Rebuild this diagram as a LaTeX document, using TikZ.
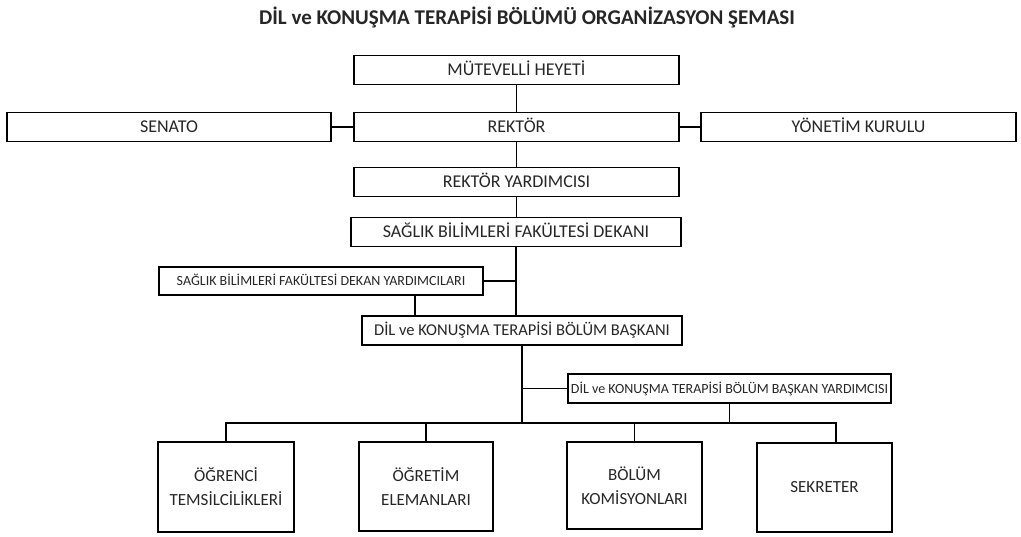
\documentclass[tikz,border=0pt]{standalone}
\usepackage{fontspec}
\setmainfont{Carlito}
\usetikzlibrary{positioning}

\begin{document}
\begin{tikzpicture}[x=1pt,y=-1pt,
  cerceve/.style={draw,line width=1.5pt,text=black!85,inner sep=0pt},
  kutu/.style={cerceve,minimum height=29pt,text height=11.6pt,text depth=0pt,font=\fontsize{18}{20}\selectfont},
  kucuk/.style={kutu,text height=9pt,font=\fontsize{14}{16}\selectfont},
  alt/.style={cerceve,align=center,font=\fontsize{17}{24}\selectfont},
  hat/.style={line width=1.5pt}]
 \useasboundingbox (0,0) rectangle (1021,536);

 \node[font=\bfseries\fontsize{21}{24}\selectfont,text=black!85] (baslik) at (527,17) {DİL ve KONUŞMA TERAPİSİ BÖLÜMÜ ORGANİZASYON ŞEMASI};

 \node[kutu,minimum width=325pt] (mutevelli) at (516.5,70) {MÜTEVELLİ HEYETİ};
 \node[kutu,minimum width=325pt] (rektor) at (516.5,127) {REKTÖR};
 \node[kutu,minimum width=324pt] (senato) at (169,127) {SENATO};
 \node[kutu,minimum width=315pt] (yonetim) at (858.5,127) {YÖNETİM KURULU};
 \node[kutu,minimum width=325pt] (rektoryrd) at (516.5,182) {REKTÖR YARDIMCISI};
 \node[kutu,minimum width=330pt] (dekan) at (516,232) {SAĞLIK BİLİMLERİ FAKÜLTESİ DEKANI};
 \node[kucuk,minimum width=324pt,minimum height=28pt] (dekanyrd) at (321,281) {SAĞLIK BİLİMLERİ FAKÜLTESİ DEKAN YARDIMCILARI};
 \node[kutu,minimum width=320pt,text height=10.6pt,font=\fontsize{16.5}{20}\selectfont] (baskan) at (522,330.5) {DİL ve KONUŞMA TERAPİSİ BÖLÜM BAŞKANI};
 \node[kucuk,minimum width=323pt] (baskanyrd) at (729.5,388.5) {DİL ve KONUŞMA TERAPİSİ BÖLÜM BAŞKAN YARDIMCISI};

 \node[alt,minimum width=136pt,minimum height=90pt] (ogrenci) at (226,487) {ÖĞRENCİ\\TEMSİLCİLİKLERİ};
 \node[alt,minimum width=134pt,minimum height=89pt] (ogretim) at (426,486.5) {ÖĞRETİM\\ELEMANLARI};
 \node[alt,minimum width=135pt,minimum height=87pt] (bolum) at (634.5,485.5) {BÖLÜM\\KOMİSYONLARI};
 \node[alt,minimum width=135pt,minimum height=89pt] (sekreter) at (824.5,487.5) {SEKRETER};

 \coordinate (bag) at (522,423);

 \draw[hat] (mutevelli) -- (rektor);
 \draw[hat] (senato) -- (rektor);
 \draw[hat] (rektor) -- (yonetim);
 \draw[hat] (rektor) -- (rektoryrd);
 \draw[hat] (rektoryrd.south) -- (rektoryrd.south |- dekan.north);
 \draw[hat] (dekan.south) -- (dekan.south |- baskan.north);
 \draw[hat] (dekanyrd.east) -- (dekanyrd.east -| dekan.south);
 \draw[hat] ([xshift=94pt]dekanyrd.south) -- ([xshift=94pt]dekanyrd.south |- baskan.north);

 \draw[hat] (baskan.south) -- (bag);
 \draw[hat] (baskan.south |- baskanyrd.west) -- (baskanyrd.west);
 \draw[hat] (baskanyrd.south) -- (baskanyrd.south |- bag);
 \draw[hat] (ogrenci.north) |- (bag) -| ([xshift=11.5pt]sekreter.north);
 \draw[hat] (ogretim.north) -- (ogretim.north |- bag);
 \draw[hat] (bolum.north) -- (bolum.north |- bag);
\end{tikzpicture}
\end{document}
